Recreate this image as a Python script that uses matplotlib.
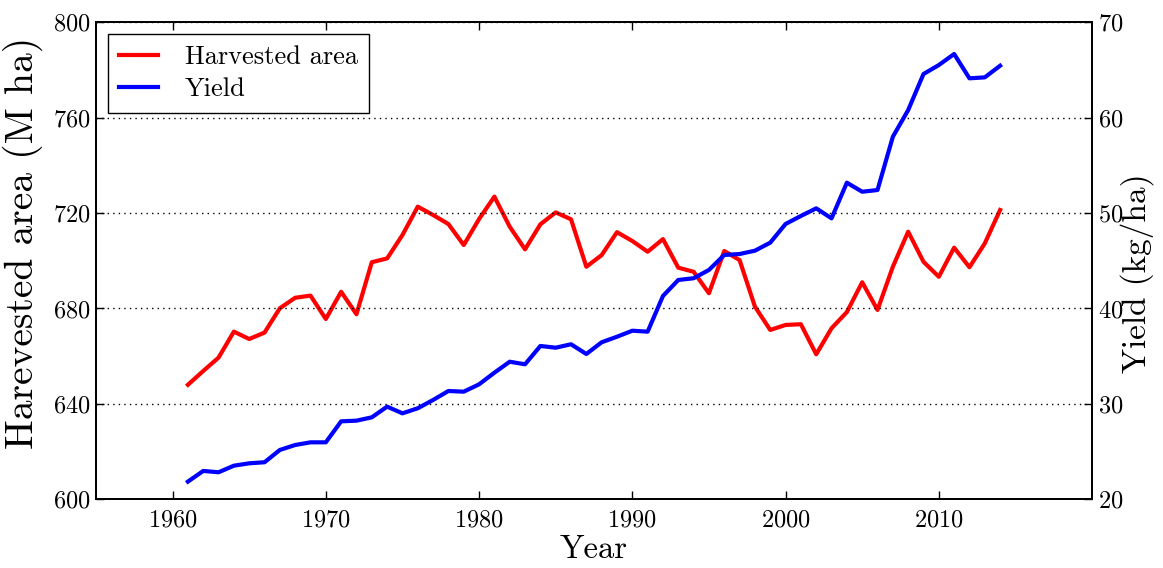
import matplotlib
matplotlib.use("Agg")
import matplotlib.pyplot as plt

# Global cereal harvested area and yield, 1961-2014
years = list(range(1961, 2015))
harvested_area = [
    648.0, 653.8, 659.4, 670.3, 667.2, 669.9, 680.1, 684.5, 685.4, 675.6,
    687.0, 677.6, 699.4, 701.0, 710.8, 722.7, 719.2, 715.4, 706.6, 717.5,
    726.9, 714.3, 704.8, 715.3, 720.3, 717.4, 697.5, 702.4, 712.0, 708.3,
    703.8, 709.1, 697.1, 695.4, 686.4, 704.1, 700.3, 680.8, 671.0, 673.1,
    673.4, 660.8, 671.7, 678.5, 691.0, 679.4, 697.5, 712.2, 699.6, 693.3,
    705.5, 697.3, 707.3, 721.3,
]
yield_kg_ha = [
    21.85, 22.97, 22.83, 23.52, 23.77, 23.88, 25.17, 25.69, 25.97, 25.97,
    28.17, 28.24, 28.59, 29.71, 29.01, 29.54, 30.41, 31.35, 31.28, 32.05,
    33.27, 34.42, 34.15, 36.07, 35.89, 36.25, 35.23, 36.46, 37.04, 37.67,
    37.57, 41.31, 42.99, 43.17, 44.04, 45.61, 45.71, 46.06, 46.90, 48.86,
    49.70, 50.50, 49.45, 53.19, 52.24, 52.42, 58.00, 60.80, 64.58, 65.52,
    66.68, 64.13, 64.23, 65.45,
]
x_ticks = [1960, 1970, 1980, 1990, 2000, 2010]
left_ticks = [600, 640, 680, 720, 760, 800]
right_ticks = [20, 30, 40, 50, 60, 70]

plt.rcParams["font.family"] = "cmr10"
plt.rcParams["axes.formatter.use_mathtext"] = True
plt.rcParams["mathtext.fontset"] = "cm"
plt.rcParams["xtick.labelsize"] = 17.5
plt.rcParams["ytick.labelsize"] = 17.5

fig = plt.figure(figsize=(11.63, 5.68), dpi=100)
ax1 = fig.add_axes([0.0825, 0.121, 0.8565, 0.8397])
ax2 = ax1.twinx()

l1, = ax1.plot(years, harvested_area, color="red", lw=3, label="Harvested area")
l2, = ax2.plot(years, yield_kg_ha, color="blue", lw=3, label="Yield")

ax1.set_xlim(1955, 2020)
ax1.set_ylim(600, 800)
ax2.set_ylim(20, 70)
ax1.set_xticks(x_ticks)
ax1.set_yticks(left_ticks)
ax2.set_yticks(right_ticks)

ax2.yaxis.grid(True, color="black", linestyle=(0, (1, 3)), linewidth=1)

for ax in (ax1, ax2):
    for sp in ax.spines.values():
        sp.set_linewidth(1.3)
    ax.tick_params(direction="in", length=6, width=1)
ax1.tick_params(axis="x", top=True, pad=7)
ax1.tick_params(axis="y", right=False, pad=4)
ax2.tick_params(axis="y", pad=4)

ax1.set_xlabel("Year", fontsize=23.5, labelpad=3)
ax1.set_ylabel("Harevested area (M ha)", fontsize=28.5)
ax1.yaxis.set_label_coords(-0.053, 0.537)
ax2.set_ylabel("Yield (kg/ha)", fontsize=24)
ax2.yaxis.set_label_coords(1.028, 0.474)

leg = ax1.legend(
    handles=[l1, l2], loc="upper left", fancybox=False, framealpha=1,
    prop=dict(family="cmr10", size=19), handlelength=1.5,
    handletextpad=1.0, borderpad=0.42, labelspacing=0.33,
    borderaxespad=0.45,
)
leg.get_frame().set_edgecolor("black")
leg.get_frame().set_linewidth(1.0)

fig.savefig("out.png", dpi=100)
